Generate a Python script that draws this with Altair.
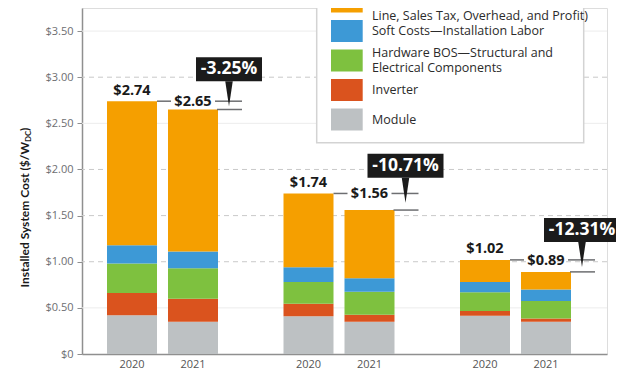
import altair as alt
import pandas as pd

# ---------------- data ----------------
GROUPS = ["Residential", "Commercial", "Utility"]
YEARS = ["2020", "2021"]
COMPONENTS = [
    "Module",
    "Inverter",
    "Hardware BOS—Structural and Electrical Components",
    "Soft Costs—Installation Labor",
    "Soft Costs—Others (PII, Land Acquisition, Transmission Line, Sales Tax, Overhead, and Profit)",
]
# one value per bar: Res 2020, Res 2021, Com 2020, Com 2021, Utl 2020, Utl 2021
MODULE = [0.42, 0.35, 0.41, 0.35, 0.415, 0.35]
INVERTER = [0.24, 0.25, 0.135, 0.075, 0.05, 0.035]
HARDWARE_BOS = [0.32, 0.33, 0.235, 0.25, 0.205, 0.19]
INSTALL_LABOR = [0.20, 0.18, 0.16, 0.145, 0.11, 0.125]
SOFT_OTHER = [1.56, 1.54, 0.80, 0.74, 0.24, 0.19]
TOTALS = [2.74, 2.65, 1.74, 1.56, 1.02, 0.89]
CHANGES = ["-3.25%", "-10.71%", "-12.31%"]
Y_TICKS = [0, 0.5, 1.0, 1.5, 2.0, 2.5, 3.0, 3.5]
GRID_DASHED = [1.0, 1.5, 2.0, 3.0]
GRID_SOLID = [0.5, 2.5, 3.5]
LEGEND_ORDER = [4, 3, 2, 1, 0]
# legend labels as visible in the (top-cropped) reference
LEGEND_LABELS = [
    "Line, Sales Tax, Overhead, and Profit)",
    "Soft Costs—Installation Labor",
    "Hardware BOS—Structural and\nElectrical Components",
    "Inverter",
    "Module",
]

COLORS = ["#BDC1C3", "#DA531E", "#7EC13F", "#3D99D6", "#F59F00"]
SERIES = [MODULE, INVERTER, HARDWARE_BOS, INSTALL_LABOR, SOFT_OTHER]

# ---------------- layout ----------------
W, H = 525, 346
Y_MAX = 3.75
PXD = H / Y_MAX          # pixels per dollar
PLOT_LEFT, PLOT_TOP = 82, 8
FONT = "Open Sans"
TFONT = "Lato"
LINE_C = "#6d6e71"
BOX_C = "#1b1b1b"
LEG_LH = 15.7


def bar_center(g, yi):
    return 50 + g * 176.5 + yi * 61


def ypage(p):
    return (PLOT_TOP + H - p) / PXD


def xpage(p):
    return p - PLOT_LEFT


BAR_HALF = 25

XS = alt.Scale(domain=[0, W], nice=False, zero=False)
YS = alt.Scale(domain=[0, Y_MAX], nice=False, zero=False)

rows = []
for g, grp in enumerate(GROUPS):
    for yi, yr in enumerate(YEARS):
        b = g * 2 + yi
        c = bar_center(g, yi)
        for k, comp in enumerate(COMPONENTS):
            rows.append(dict(bar=f"{grp} {yr}", comp=comp, order=k,
                             value=SERIES[k][b], x0=c - BAR_HALF, x1=c + BAR_HALF))
bars_df = pd.DataFrame(rows)

tot_rows = []
for g, grp in enumerate(GROUPS):
    for yi, yr in enumerate(YEARS):
        b = g * 2 + yi
        tot_rows.append(dict(bar=f"{grp} {yr}", year=yr, x=bar_center(g, yi),
                             total=TOTALS[b], ylab=TOTALS[g * 2], zero=0))
tot_df = pd.DataFrame(tot_rows)

call_rows = []
for g, grp in enumerate(GROUPS):
    c20, c21 = bar_center(g, 0), bar_center(g, 1)
    t20, t21 = TOTALS[g * 2], TOTALS[g * 2 + 1]
    lab = CHANGES[g]
    half = (10 * len(lab) + 6) / 2
    cc = c21 + 36
    call_rows.append(dict(group=grp, label=lab, t20=t20, t21=t21, mid=(t20 + t21) / 2,
                          a0=c20 + BAR_HALF, a1=c21 - 22, a2=c21 + 22, end=c21 + 49,
                          b0=c21 + BAR_HALF - 1, cc=cc, bx0=cc - half, bx1=cc + half))
call_df = pd.DataFrame(call_rows)

y_axis = alt.Axis(values=Y_TICKS, title=None, grid=False,
                  labelExpr="datum.value == 0 ? '$0' : '$' + format(datum.value, '.2f')",
                  domainColor="#8f8f8f", domainWidth=1.5, tickColor="#8f8f8f",
                  tickSize=5, tickWidth=1, labelColor="#6d6e71", labelFont=FONT,
                  labelFontSize=11, labelPadding=4)
x_axis = alt.Axis(labels=False, ticks=False, title=None, grid=False,
                  domainColor="#8f8f8f", domainWidth=1.5)

# gridlines
grid_d = alt.Chart(pd.DataFrame({"v": GRID_DASHED})).mark_rule(
    color="#c9c9c9", strokeWidth=1, strokeDash=[5, 4]).encode(
    y=alt.Y("v:Q", scale=YS, axis=y_axis))
grid_s = alt.Chart(pd.DataFrame({"v": GRID_SOLID})).mark_rule(
    color="#ececec", strokeWidth=1).encode(y=alt.Y("v:Q", scale=YS))

bars = alt.Chart(bars_df).transform_stack(
    stack="value", as_=["y0", "y1"], groupby=["bar"],
    sort=[alt.SortField("order", order="ascending")]
).mark_rect().encode(
    x=alt.X("x0:Q", scale=XS, axis=x_axis), x2="x1:Q",
    y=alt.Y("y0:Q", scale=YS), y2="y1:Q",
    color=alt.Color("comp:N", scale=alt.Scale(domain=COMPONENTS, range=COLORS), legend=None),
)

# connector lines
line_a1 = alt.Chart(call_df).mark_rule(color=LINE_C, strokeWidth=1.5).encode(
    x=alt.X("a0:Q", scale=XS), x2="a1:Q", y=alt.Y("t20:Q", scale=YS))
line_a2 = alt.Chart(call_df).mark_rule(color=LINE_C, strokeWidth=1.5).encode(
    x=alt.X("a2:Q", scale=XS), x2="end:Q", y=alt.Y("t20:Q", scale=YS))
line_b = alt.Chart(call_df).mark_rule(color=LINE_C, strokeWidth=1.5).encode(
    x=alt.X("b0:Q", scale=XS), x2="end:Q", y=alt.Y("t21:Q", scale=YS))

# total labels
lab20 = alt.Chart(tot_df).transform_filter(alt.datum.year == "2020").mark_text(
    font=FONT, fontWeight="bold", fontSize=14.5, color="#1a1a1a", baseline="middle", dy=-10.5
).encode(x=alt.X("x:Q", scale=XS), y=alt.Y("total:Q", scale=YS),
         text=alt.Text("total:Q", format="$.2f"))
lab21 = alt.Chart(tot_df).transform_filter(alt.datum.year == "2021").mark_text(
    font=FONT, fontWeight="bold", fontSize=14.5, color="#1a1a1a", baseline="middle", dy=1
).encode(x=alt.X("x:Q", scale=XS), y=alt.Y("ylab:Q", scale=YS),
         text=alt.Text("total:Q", format="$.2f"))
years = alt.Chart(tot_df).mark_text(
    font=FONT, fontSize=11, color="#555555", baseline="middle", dy=11
).encode(x=alt.X("x:Q", scale=XS), y=alt.Y("zero:Q", scale=YS), text="year:N")

# callouts
box = alt.Chart(call_df).mark_rect(color=BOX_C, yOffset=-48, y2Offset=-24).encode(
    x=alt.X("bx0:Q", scale=XS), x2="bx1:Q", y=alt.Y("mid:Q", scale=YS), y2="mid:Q")
tri = alt.Chart(call_df).mark_point(
    shape="M-0.3,-1L0.3,-1L0,1Z", size=625, filled=True, color=BOX_C, opacity=1,
    strokeWidth=0, yOffset=-11.5).encode(x=alt.X("cc:Q", scale=XS), y=alt.Y("mid:Q", scale=YS))
box_txt = alt.Chart(call_df).mark_text(
    font=FONT, fontWeight="bold", fontSize=17.5, color="white", baseline="middle", dy=-36
).encode(x=alt.X("cc:Q", scale=XS), y=alt.Y("mid:Q", scale=YS), text="label:N")

# legend (drawn by hand, cropped at the top like the reference)
leg_box_df = pd.DataFrame([dict(x0=xpage(316.7), x1=xpage(583.7), y0=ypage(-30), y1=ypage(142.7))])
leg_box = alt.Chart(leg_box_df).mark_rect(fill="white", stroke="#d3d3d3", strokeWidth=1.5).encode(
    x=alt.X("x0:Q", scale=XS), x2="x1:Q", y=alt.Y("y0:Q", scale=YS), y2="y1:Q")
leg_rows = []
for i, (ci, lab) in enumerate(zip(LEGEND_ORDER, LEGEND_LABELS)):
    top = -9.5 + 29.5 * i
    n_lines = lab.count("\n") + 1
    center = top + 11
    ty = center - (n_lines - 1) * LEG_LH / 2
    if i == 0:
        ty = 15.5  # last line of the cropped top entry, kept fully inside the page
    leg_rows.append(dict(comp=COMPONENTS[ci], label=lab,
                         sx0=xpage(331), sx1=xpage(362.7),
                         sy0=ypage(top), sy1=ypage(top + 22),
                         tx=xpage(372), ty=ypage(ty)))
leg_df = pd.DataFrame(leg_rows)
leg_sw = alt.Chart(leg_df).mark_rect().encode(
    x=alt.X("sx0:Q", scale=XS), x2="sx1:Q", y=alt.Y("sy0:Q", scale=YS), y2="sy1:Q",
    color=alt.Color("comp:N", scale=alt.Scale(domain=COMPONENTS, range=COLORS), legend=None))
leg_txt = alt.Chart(leg_df).mark_text(
    font=FONT, fontSize=12.5, color="#2b2b2b", align="left", baseline="middle",
    lineBreak="\n", lineHeight=LEG_LH
).encode(x=alt.X("tx:Q", scale=XS), y=alt.Y("ty:Q", scale=YS), text="label:N")

# y title with subscript
tdf = pd.DataFrame([{"a": 1}])
title_main = alt.Chart(tdf).mark_text(
    text="Installed System Cost ($/W", angle=270, align="right", baseline="middle",
    font=TFONT, fontWeight="bold", fontSize=12, color="#1a1a1a"
).encode(x=alt.value(25 - PLOT_LEFT), y=alt.value(142 - PLOT_TOP))
title_sub = alt.Chart(tdf).mark_text(
    text="DC", angle=270, align="left", baseline="middle",
    font=TFONT, fontWeight="bold", fontSize=8, color="#1a1a1a"
).encode(x=alt.value(25 - PLOT_LEFT + 3.5), y=alt.value(142 - PLOT_TOP))
title_end = alt.Chart(tdf).mark_text(
    text=")", angle=270, align="left", baseline="middle",
    font=TFONT, fontWeight="bold", fontSize=12, color="#1a1a1a"
).encode(x=alt.value(25 - PLOT_LEFT), y=alt.value(142 - PLOT_TOP - 11))

chart = alt.layer(
    grid_s, grid_d, bars, line_a1, line_a2, line_b, lab20, lab21, years,
    box, tri, box_txt, leg_box, leg_sw, leg_txt, title_main, title_sub, title_end
).properties(
    width=W, height=H,
    autosize=alt.AutoSizeParams(type="none"),
    padding={"left": PLOT_LEFT - 8, "top": PLOT_TOP - 8, "right": 9, "bottom": 16},
).configure_view(strokeWidth=0).configure(font=FONT)

chart.save("out.html", embed_options={"renderer": "svg", "actions": False})
